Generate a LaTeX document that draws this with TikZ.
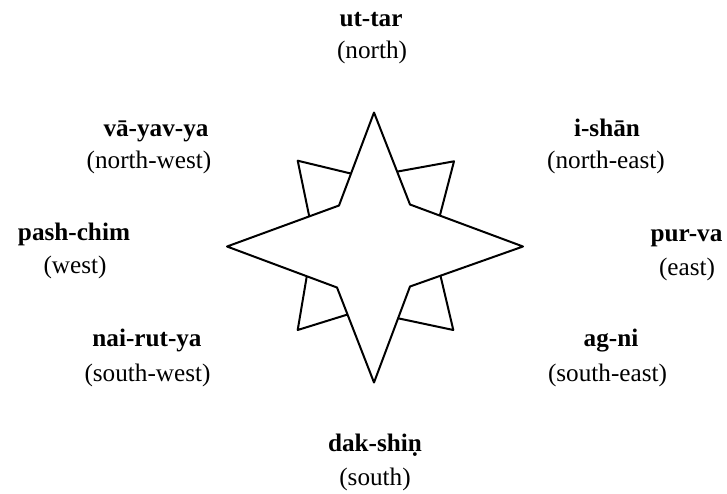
\documentclass[tikz,border=0pt]{standalone}
\usepackage{fontspec}
\setmainfont{Liberation Serif}
\tikzset{
  hd/.style={anchor=base, inner sep=0pt, font=\bfseries\fontsize{12.6}{15}\selectfont},
  sb/.style={anchor=base, inner sep=0pt, font=\fontsize{12.6}{15}\selectfont},
  starline/.style={draw=black, fill=white, line width=1pt, line join=round},
}
\begin{document}
\begin{tikzpicture}[x=0.5pt,y=-0.5pt]
\useasboundingbox (0,0) rectangle (727,493);
% back kites
\begin{scope}[shift={(374,246.5)}]
  \path[starline] (-76.3,-85.8) -- (7.4,-65.6) -- (0,0) -- (-58.9,-1.8) -- cycle;
  \path[starline] (80,-85.2) -- (-6,-69.6) -- (0,0) -- (59,-4.6) -- cycle;
  \path[starline] (-76.3,83.5) -- (-3.9,61) -- (0,0) -- (-62.8,3.5) -- cycle;
  \path[starline] (79.3,83.5) -- (-3.2,66) -- (0,0) -- (60.4,3.5) -- cycle;
  % front star
  \path[starline] (0,-134) -- (36,-42) -- (149,0) -- (36,40) -- (0,136)
     -- (-37,41) -- (-147,0) -- (-35,-41) -- cycle;
\end{scope}
% labels
\node[hd] (n)  at (371,26)  {ut-tar};
\node[sb] (ns) at (372,58)  {(north)};
\node[hd] (nw)  at (156,136) {vā-yav-ya};
\node[sb] (nws) at (149,168) {(north-west)};
\node[hd] (ne)  at (607,136) {i-shān};
\node[sb] (nes) at (606,168) {(north-east)};
\node[hd] (w)  at (74,240)  {pash-chim};
\node[sb] (ws) at (75,273)  {(west)};
\node[hd] (e)  at (686.5,241) {pur-va};
\node[sb] (es) at (687,275)   {(east)};
\node[hd] (sw)  at (147,346) {nai-rut-ya};
\node[sb] (sws) at (147.5,381) {(south-west)};
\node[hd] (se)  at (611,346) {ag-ni};
\node[sb] (ses) at (607.5,381) {(south-east)};
\node[hd] (s)  at (375,451.5) {dak-shiṇ};
\node[sb] (ss) at (375,485)   {(south)};
\end{tikzpicture}
\end{document}
